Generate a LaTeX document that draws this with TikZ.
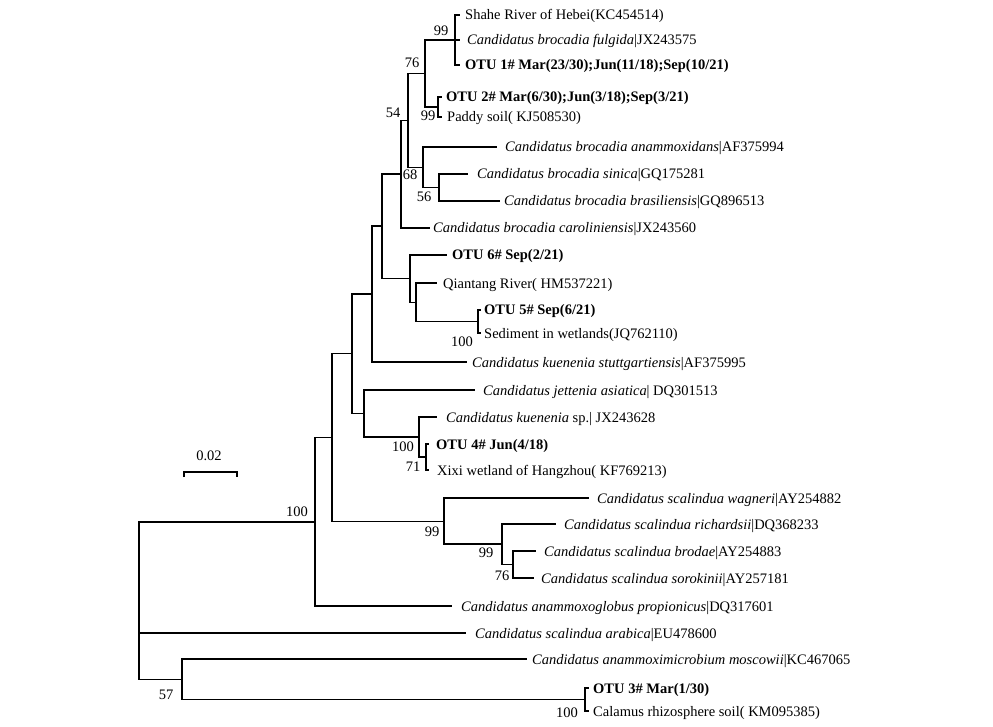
\documentclass[tikz,border=0pt]{standalone}
\usepackage{fontspec}
\setmainfont{Liberation Serif}
\newcommand\tsz{\fontsize{14.5}{17}\selectfont}
\begin{document}
\begin{tikzpicture}[x=1pt,y=-1pt,
  br/.style={line width=1.6pt, line join=miter},
  lf/.style={anchor=base west, inner sep=0pt, font=\tsz},
  bs/.style={anchor=center, inner sep=0pt, font=\tsz}]
\fill[white] (0,0) rectangle (993,727);
\path[use as bounding box] (0,0) rectangle (993,727);
% internal nodes
\coordinate (N1) at (455,40);
\coordinate (N2) at (438,107);
\coordinate (N3) at (425,73.5);
\coordinate (N4) at (408,120.5);
\coordinate (N5) at (423,167.5);
\coordinate (N6) at (439,187.5);
\coordinate (N7) at (401,174);
\coordinate (N8) at (382,226);
\coordinate (N9) at (410,278.5);
\coordinate (N10) at (416,302.5);
\coordinate (N11) at (478,321.5);
\coordinate (N12) at (372,294);
\coordinate (N13) at (352,353.5);
\coordinate (N14) at (364,413.5);
\coordinate (N15) at (419,437);
\coordinate (N16) at (426,457);
\coordinate (N17) at (332,437.5);
\coordinate (N18) at (444,521.5);
\coordinate (N19) at (502,544);
\coordinate (N20) at (513,564.5);
\coordinate (N21) at (315,522);
\coordinate (N22) at (182,679.5);
\coordinate (N23) at (585,699.5);
\coordinate (R) at (139,601);
% leaf ends
\coordinate (l1) at (460,15);
\coordinate (l2) at (460,40);
\coordinate (l3) at (460,65);
\coordinate (l4) at (442,97);
\coordinate (l5) at (442,117);
\coordinate (l6) at (497,147);
\coordinate (l7) at (468,174);
\coordinate (l8) at (500,201);
\coordinate (l9) at (430,228);
\coordinate (l10) at (447,255);
\coordinate (l11) at (437,283);
\coordinate (l12) at (481,310);
\coordinate (l13) at (481,333);
\coordinate (l14) at (467,362);
\coordinate (l15) at (475,390);
\coordinate (l16) at (437,417);
\coordinate (l17) at (429,444);
\coordinate (l18) at (429,470);
\coordinate (l19) at (589,498);
\coordinate (l20) at (556,524);
\coordinate (l21) at (536,551);
\coordinate (l22) at (534,578);
\coordinate (l23) at (452,606);
\coordinate (l24) at (466,633);
\coordinate (l25) at (527,659);
\coordinate (l26) at (589,688);
\coordinate (l27) at (589,711);
% branches
\draw[br] (N1) |- (l1); \draw[br] (N1) -- (l2); \draw[br] (N1) |- (l3);
\draw[br] (N2) |- (l4); \draw[br] (N2) |- (l5);
\draw[br] (N3) |- (N1); \draw[br] (N3) |- (N2);
\draw[br] (N4) |- (N3); \draw[br] (N4) |- (N5);
\draw[br] (N5) |- (l6); \draw[br] (N5) |- (N6);
\draw[br] (N6) |- (l7); \draw[br] (N6) |- (l8);
\draw[br] (N7) |- (N4); \draw[br] (N7) |- (l9);
\draw[br] (N8) |- (N7); \draw[br] (N8) |- (N9);
\draw[br] (N9) |- (l10); \draw[br] (N9) |- (N10);
\draw[br] (N10) |- (l11); \draw[br] (N10) |- (N11);
\draw[br] (N11) |- (l12); \draw[br] (N11) |- (l13);
\draw[br] (N12) |- (N8); \draw[br] (N12) |- (l14);
\draw[br] (N13) |- (N12); \draw[br] (N13) |- (N14);
\draw[br] (N14) |- (l15); \draw[br] (N14) |- (N15);
\draw[br] (N15) |- (l16); \draw[br] (N15) |- (N16);
\draw[br] (N16) |- (l17); \draw[br] (N16) |- (l18);
\draw[br] (N17) |- (N13); \draw[br] (N17) |- (N18);
\draw[br] (N18) |- (l19); \draw[br] (N18) |- (N19);
\draw[br] (N19) |- (l20); \draw[br] (N19) |- (N20);
\draw[br] (N20) |- (l21); \draw[br] (N20) |- (l22);
\draw[br] (N21) |- (N17); \draw[br] (N21) |- (l23);
\draw[br] (R) |- (N21); \draw[br] (R) |- (l24); \draw[br] (R) |- (N22);
\draw[br] (N22) |- (l25); \draw[br] (N22) |- (N23);
\draw[br] (N23) |- (l26); \draw[br] (N23) |- (l27);
% leaf labels
\node[lf] (t1) at (465,20) {Shahe River of Hebei(KC454514)};
\node[lf] (t2) at (467,45) {\textit{Candidatus brocadia fulgida}|JX243575};
\node[lf] (t3) at (465,70) {\textbf{OTU 1\# Mar(23/30);Jun(11/18);Sep(10/21)}};
\node[lf] (t4) at (446,102) {\textbf{OTU 2\# Mar(6/30);Jun(3/18);Sep(3/21)}};
\node[lf] (t5) at (447,122) {Paddy soil( KJ508530)};
\node[lf] (t6) at (505,152) {\textit{Candidatus brocadia anammoxidans}|AF375994};
\node[lf] (t7) at (477,179) {\textit{Candidatus brocadia sinica}|GQ175281};
\node[lf] (t8) at (504,206) {\textit{Candidatus brocadia brasiliensis}|GQ896513};
\node[lf] (t9) at (433,233) {\textit{Candidatus brocadia caroliniensis}|JX243560};
\node[lf] (t10) at (452,260) {\textbf{OTU 6\# Sep(2/21)}};
\node[lf] (t11) at (443,288) {Qiantang River( HM537221)};
\node[lf] (t12) at (484,315) {\textbf{OTU 5\# Sep(6/21)}};
\node[lf] (t13) at (484,338) {Sediment in wetlands(JQ762110)};
\node[lf] (t14) at (472,367) {\textit{Candidatus kuenenia stuttgartiensis}|AF375995};
\node[lf] (t15) at (483,395) {\textit{Candidatus jettenia asiatica}| DQ301513};
\node[lf] (t16) at (446,422) {\textit{Candidatus kuenenia} sp.| JX243628};
\node[lf] (t17) at (436,449) {\textbf{OTU 4\# Jun(4/18)}};
\node[lf] (t18) at (437,475) {Xixi wetland of Hangzhou( KF769213)};
\node[lf] (t19) at (597,503) {\textit{Candidatus scalindua wagneri}|AY254882};
\node[lf] (t20) at (564,529) {\textit{Candidatus scalindua richardsii}|DQ368233};
\node[lf] (t21) at (544,556) {\textit{Candidatus scalindua brodae}|AY254883};
\node[lf] (t22) at (541,583) {\textit{Candidatus scalindua sorokinii}|AY257181};
\node[lf] (t23) at (461,611) {\textit{Candidatus anammoxoglobus propionicus}|DQ317601};
\node[lf] (t24) at (475,638) {\textit{Candidatus scalindua arabica}|EU478600};
\node[lf] (t25) at (532,664) {\textit{Candidatus anammoximicrobium moscowii}|KC467065};
\node[lf] (t26) at (593,693) {\textbf{OTU 3\# Mar(1/30)}};
\node[lf] (t27) at (593,716) {Calamus rhizosphere soil( KM095385)};
% bootstrap values
\node[bs] (b1) at (441,31) {99};
\node[bs] (b2) at (412,63) {76};
\node[bs] (b3) at (428,116) {99};
\node[bs] (b4) at (393,113) {54};
\node[bs] (b5) at (410,175) {68};
\node[bs] (b6) at (424,197) {56};
\node[bs] (b7) at (462,342) {100};
\node[bs] (b8) at (403,447) {100};
\node[bs] (b9) at (413,467) {71};
\node[bs] (b10) at (297,512) {100};
\node[bs] (b11) at (432,532) {99};
\node[bs] (b12) at (486,553) {99};
\node[bs] (b13) at (502,576) {76};
\node[bs] (b14) at (166,695) {57};
\node[bs] (b15) at (567,713) {100};
% scale bar
\coordinate (s1) at (184,472);
\coordinate (s2) at (237,472);
\draw[line width=1.3pt] ([yshift=-5pt]s1) -- (s1) -- (s2) -- ([yshift=-5pt]s2);
\node[bs] (sl) at (209,456) {0.02};
\end{tikzpicture}
\end{document}
